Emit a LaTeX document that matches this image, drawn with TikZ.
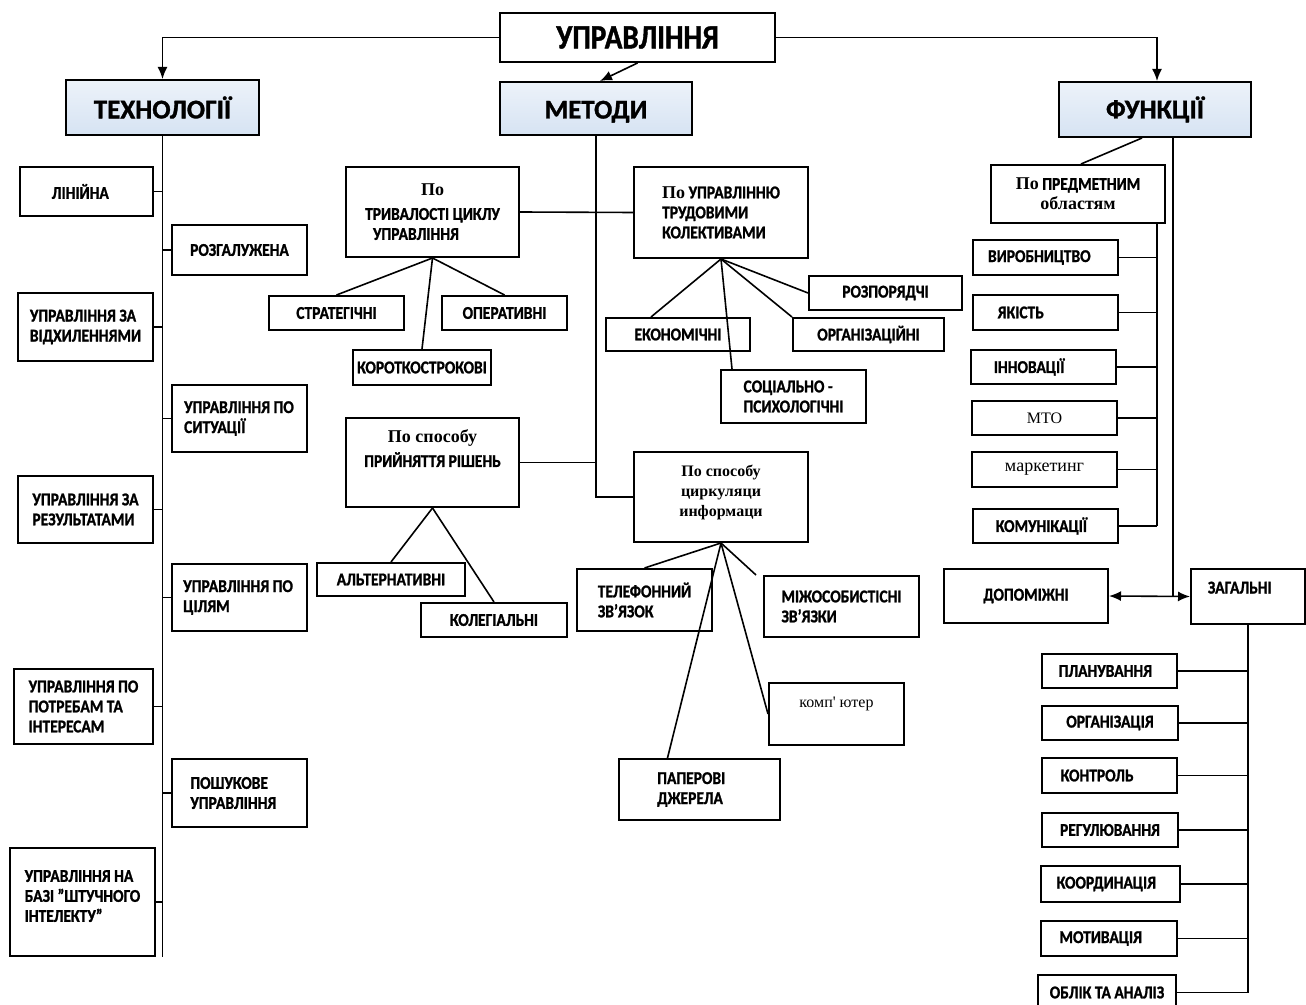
\documentclass[tikz,border=0pt]{standalone}
\usepackage{fontspec}
\setmainfont{Carlito}[BoldFeatures={FakeBold=1.2, FakeStretch=0.86}]
\newfontfamily\hdrfont{Carlito}[BoldFeatures={FakeBold=1.2}]
\newfontfamily\tms{Liberation Serif}
\usetikzlibrary{arrows.meta}
\definecolor{hdrblue}{RGB}{214,227,243}

\begin{document}
\begin{tikzpicture}[x=0.5pt,y=-0.5pt,
    bx/.style={draw, line width=1pt, inner sep=2pt, font=\bfseries\fontsize{9}{10}\selectfont},
    hdr/.style={bx, top color=hdrblue!45, bottom color=hdrblue, font=\hdrfont\bfseries\fontsize{13.5}{15}\selectfont},
    bw/.style={minimum width=#1*0.5pt},
    bh/.style={minimum height=#1*0.5pt},
    ln/.style={line width=0.8pt},
    arr/.style={ln, -{Latex[length=6pt,width=5pt]}}]
    \useasboundingbox (0,0) rectangle (1306,1005);

    % Верхній рівень
    \node[bx, bw=275, bh=49, font=\bfseries\fontsize{17}{19}\selectfont] (upr) at (637.5,37.5) {УПРАВЛІННЯ};
    \node[hdr, bw=193, bh=55] (tech) at (162.5,107.5) {ТЕХНОЛОГІЇ};
    \node[hdr, bw=192, bh=53] (met) at (596,108.5) {\raisebox{-1.5pt}[8pt][1pt]{МЕТОДИ}};
    \node[hdr, bw=192, bh=55] (fun) at (1155,109.5) {ФУНКЦІЇ};
    \draw[arr] (upr.west) -| (tech.north);
    \draw[arr] (upr.east) -| ([xshift=1pt]fun.north);
    \draw[arr] (upr.south) -- ([xshift=2pt]met.north);

    % Технології
    \node[bx, bw=133, bh=49] (lin) at (86.5,191.5) {ЛІНІЙНА\phantom{ІІІ}};
    \node[bx, bw=135, bh=50] (rozg) at (239.5,250) {РОЗГАЛУЖЕНА};
    \node[bx, bw=135, bh=68, align=left] (vidh) at (85.5,327) {УПРАВЛІННЯ ЗА\\ВІДХИЛЕННЯМИ};
    \node[bx, bw=135, bh=67, align=left] (sit) at (239.5,418.5) {УПРАВЛІННЯ ПО\\СИТУАЦІЇ\phantom{ІІІІІІІІІІІІ}};
    \node[bx, bw=135, bh=67, align=left] (rez) at (85.5,509.5) {УПРАВЛІННЯ ЗА\\РЕЗУЛЬТАТАМИ};
    \node[bx, bw=135, bh=67, align=left] (cil) at (239.5,597.5) {УПРАВЛІННЯ ПО\\ЦІЛЯМ\phantom{ІІІІІІІІІІІІІІІІ}};
    \node[bx, bw=139, bh=75, align=left] (potr) at (83.5,706.5) {УПРАВЛІННЯ ПО\\ПОТРЕБАМ ТА\\ІНТЕРЕСАМ};
    \node[bx, bw=135, bh=68, align=left] (posh) at (239.5,793) {ПОШУКОВЕ\phantom{ІІІІІ}\\УПРАВЛІННЯ};
    \node[bx, bw=145, bh=108, align=left] (ai) at (82.5,902) {УПРАВЛІННЯ НА\\БАЗІ \symbol{34}ШТУЧНОГО\\ІНТЕЛЕКТУ\symbol{34}\\[-4pt]};
    \draw[ln] (tech.south) -- (tech.south |- ai.south);
    \foreach \n in {lin,vidh,rez,potr,ai}
        \draw[ln] (\n.east) -- (\n.east -| tech.south);
    \foreach \n in {rozg,sit,cil,posh}
        \draw[ln] (\n.west) -- (\n.west -| tech.south);

    % Методи
    \node[bx, bw=173, bh=90, align=center] (dur) at (432.5,212) {{\tms По}\\[2pt]ТРИВАЛОСТІ ЦИКЛУ\\УПРАВЛІННЯ\phantom{ІІІІІІІІ}};
    \node[bx, bw=135, bh=34] (str) at (336.5,313) {СТРАТЕГІЧНІ};
    \node[bx, bw=125, bh=34] (oper) at (504.5,313) {ОПЕРАТИВНІ};
    \node[bx, bw=134, bh=35] (kor) at (422,367.5) {КОРОТКОСТРОКОВІ};
    \node[bx, bw=174, bh=91, align=left] (trud) at (721,212.5) {{\tms По} УПРАВЛІННЮ\\ТРУДОВИМИ\\КОЛЕКТИВАМИ};
    \node[bx, bw=153, bh=34] (rozp) at (885.5,293) {РОЗПОРЯДЧІ};
    \node[bx, bw=144, bh=33] (ekon) at (678,334.5) {ЕКОНОМІЧНІ};
    \node[bx, bw=151, bh=33] (org) at (868.5,334.5) {ОРГАНІЗАЦІЙНІ};
    \node[bx, bw=145, bh=53, align=left] (soc) at (793.5,396.5) {СОЦІАЛЬНО -\\ПСИХОЛОГІЧНІ};
    \node[bx, bw=173, bh=89, align=center] (dec) at (432.5,462.5) {{\tms По способу}\\[2pt]ПРИЙНЯТТЯ РІШЕНЬ\\[4pt]};
    \node[bx, bw=148, bh=33] (alt) at (391,579.5) {АЛЬТЕРНАТИВНІ};
    \node[bx, bw=146, bh=34] (kol) at (494,620) {КОЛЕГІАЛЬНІ};
    \node[bx, bw=174, bh=90, align=center, font=\tms\bfseries\fontsize{8}{10}\selectfont] (circ) at (721,497) {По способу\\циркуляци\\информаци\\[-4pt]};
    \node[bx, bw=135, bh=62, align=left] (tel) at (644.5,600) {ТЕЛЕФОННИЙ\\ЗВ\symbol{39}ЯЗОК\phantom{ІІІІІІІІ}};
    \node[bx, bw=155, bh=61, align=left] (mizh) at (841.5,606.5) {МІЖОСОБИСТІСНІ\\ЗВ\symbol{39}ЯЗКИ\phantom{ІІІІІІІІІІІ}};
    \node[bx, bw=135, bh=62, font=\tms\fontsize{8}{10}\selectfont] (comp) at (836.5,714) {\raisebox{5.5pt}[6pt][2pt]{комп\symbol{39} ютер}};
    \node[bx, bw=161, bh=61, align=left] (pap) at (699.5,789.5) {ПАПЕРОВІ\phantom{ІІІІ}\\ДЖЕРЕЛА\phantom{ІІІІ}};
    \draw[ln] (met.south) |- (circ.west);
    \draw[ln] (dur.east) -- (trud.west);
    \draw[ln] (dec.east) -- (dec.east -| met.south);
    \draw[ln] (dur.south) -- (str.north);
    \draw[ln] (dur.south) -- (oper.north);
    \draw[ln] (dur.south) -- (kor.north);
    \draw[ln] (trud.south) -- (rozp.west);
    \draw[ln] (trud.south) -- ([xshift=-13.5pt]ekon.north);
    \draw[ln] (trud.south) -- (org.north west);
    \draw[ln] (trud.south) -- ([xshift=6pt]soc.north west);
    \draw[ln] (dec.south) -- (alt.north);
    \draw[ln] (dec.south) -- (kol.north);
    \draw[ln] (circ.south) -- (tel.north);
    \draw[ln] (circ.south) -- ([xshift=-3.5pt]mizh.north west);
    \draw[ln] (circ.south) -- (comp.west);
    \draw[ln] (circ.south) -- ([xshift=-16pt]pap.north);

    % Функції
    \node[bx, bw=174, bh=58, align=center] (pred) at (1078,194) {{\tms По} ПРЕДМЕТНИМ\\{\tms областям}};
    \node[bx, bw=145, bh=35] (vyr) at (1045.5,257.5) {ВИРОБНИЦТВО\phantom{ІІІ}};
    \node[bx, bw=145, bh=35] (yak) at (1045.5,312.5) {ЯКІСТЬ\phantom{ІІІІІІІІІІІІ}};
    \node[bx, bw=145, bh=34] (inn) at (1043.5,367) {ІННОВАЦІЇ\phantom{ІІІІІІІ}};
    \node[bx, bw=145, bh=34, font=\tms\fontsize{8}{10}\selectfont] (mto) at (1044.5,418) {МТО};
    \node[bx, bw=145, bh=35, font=\tms\fontsize{9}{10}\selectfont] (mark) at (1044.5,469.5) {маркетинг};
    \node[bx, bw=145, bh=34] (kom) at (1045.5,526) {КОМУНІКАЦІЇ\phantom{ІІ}};
    \node[bx, bw=164, bh=54] (dop) at (1026,596) {ДОПОМІЖНІ};
    \node[bx, bw=114, bh=55] (zag) at (1248,596.5) {\raisebox{3.5pt}[6pt][2pt]{ЗАГАЛЬНІ\phantom{ІІІІ}}};
    \node[bx, bw=135, bh=34] (plan) at (1109.5,671) {ПЛАНУВАННЯ\phantom{ІІ}};
    \node[bx, bw=136, bh=34] (orgz) at (1110,723) {ОРГАНІЗАЦІЯ};
    \node[bx, bw=135, bh=35] (kontr) at (1109.5,775.5) {КОНТРОЛЬ\phantom{ІІІІІІ}};
    \node[bx, bw=136, bh=34] (reg) at (1110,830) {РЕГУЛЮВАННЯ};
    \node[bx, bw=139, bh=36] (koord) at (1110.5,884) {КООРДИНАЦІЯ\phantom{ІІ}};
    \node[bx, bw=136, bh=35] (motiv) at (1109,938.5) {МОТИВАЦІЯ\phantom{ІІІІ}};
    \node[bx, bw=138, bh=35] (oblik) at (1107,992.5) {ОБЛІК ТА АНАЛІЗ};
    \coordinate (fsp) at (1173,137);
    \coordinate (psp) at (1157,223);
    \draw[ln] ([xshift=-6.5pt]fun.south) -- ([xshift=1.5pt]pred.north);
    \draw[ln] (fsp) -- (fsp |- zag.west);
    \draw[ln] (psp) -- (psp |- kom.east);
    \foreach \n in {vyr,yak,inn,mto,mark,kom}
        \draw[ln] (\n.east) -- (\n.east -| psp);
    \draw[ln, {Latex[length=6pt,width=5pt]}-{Latex[length=6pt,width=5pt]}] (dop.east) -- (zag.west);
    \draw[ln] (zag.south) -- (zag.south |- oblik.east);
    \foreach \n in {plan,orgz,kontr,reg,koord,motiv,oblik}
        \draw[ln] (\n.east) -- (\n.east -| zag.south);
\end{tikzpicture}
\end{document}
